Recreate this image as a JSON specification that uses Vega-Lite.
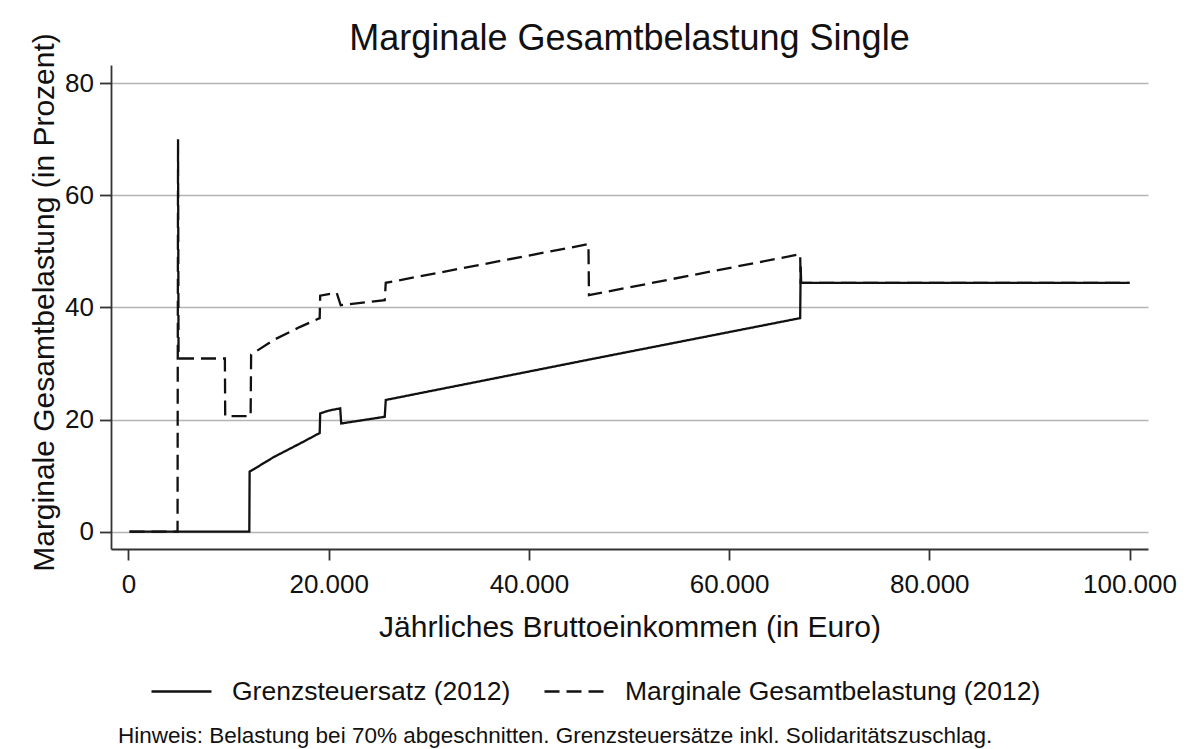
{
  "$schema": "https://vega.github.io/schema/vega-lite/v6.json",
  "width": 1037,
  "height": 484,
  "autosize": {"type": "none"},
  "padding": {"left": 111, "top": 65, "right": 41, "bottom": 200},
  "background": "white",
  "title": {
    "text": "Marginale Gesamtbelastung Single",
    "font": "Liberation Sans",
    "fontSize": 36,
    "fontWeight": "normal",
    "color": "#111111",
    "anchor": "middle",
    "baseline": "alphabetic",
    "offset": 15,
    "dy": 68
  },
  "data": {
    "values": [
      {"serie": "Grenzsteuersatz (2012)", "einkommen": 100, "satz": 0},
      {"serie": "Grenzsteuersatz (2012)", "einkommen": 12070, "satz": 0},
      {"serie": "Grenzsteuersatz (2012)", "einkommen": 12100, "satz": 10.7},
      {"serie": "Grenzsteuersatz (2012)", "einkommen": 14500, "satz": 13.3},
      {"serie": "Grenzsteuersatz (2012)", "einkommen": 17100, "satz": 15.7},
      {"serie": "Grenzsteuersatz (2012)", "einkommen": 19100, "satz": 17.6},
      {"serie": "Grenzsteuersatz (2012)", "einkommen": 19150, "satz": 21.1},
      {"serie": "Grenzsteuersatz (2012)", "einkommen": 20000, "satz": 21.6},
      {"serie": "Grenzsteuersatz (2012)", "einkommen": 21150, "satz": 22.0},
      {"serie": "Grenzsteuersatz (2012)", "einkommen": 21250, "satz": 19.3},
      {"serie": "Grenzsteuersatz (2012)", "einkommen": 25600, "satz": 20.5},
      {"serie": "Grenzsteuersatz (2012)", "einkommen": 25700, "satz": 23.5},
      {"serie": "Grenzsteuersatz (2012)", "einkommen": 46000, "satz": 30.7},
      {"serie": "Grenzsteuersatz (2012)", "einkommen": 67100, "satz": 38.1},
      {"serie": "Grenzsteuersatz (2012)", "einkommen": 67150, "satz": 47.3},
      {"serie": "Grenzsteuersatz (2012)", "einkommen": 67200, "satz": 44.4},
      {"serie": "Grenzsteuersatz (2012)", "einkommen": 100000, "satz": 44.4},
      {"serie": "Marginale Gesamtbelastung (2012)", "einkommen": 100, "satz": 0},
      {"serie": "Marginale Gesamtbelastung (2012)", "einkommen": 4900, "satz": 0},
      {"serie": "Marginale Gesamtbelastung (2012)", "einkommen": 4950, "satz": 70},
      {"serie": "Marginale Gesamtbelastung (2012)", "einkommen": 5000, "satz": 30.9},
      {"serie": "Marginale Gesamtbelastung (2012)", "einkommen": 9630, "satz": 30.9},
      {"serie": "Marginale Gesamtbelastung (2012)", "einkommen": 9660, "satz": 20.6},
      {"serie": "Marginale Gesamtbelastung (2012)", "einkommen": 12200, "satz": 20.6},
      {"serie": "Marginale Gesamtbelastung (2012)", "einkommen": 12250, "satz": 31.6},
      {"serie": "Marginale Gesamtbelastung (2012)", "einkommen": 14500, "satz": 34.2},
      {"serie": "Marginale Gesamtbelastung (2012)", "einkommen": 17100, "satz": 36.5},
      {"serie": "Marginale Gesamtbelastung (2012)", "einkommen": 19100, "satz": 38.1},
      {"serie": "Marginale Gesamtbelastung (2012)", "einkommen": 19150, "satz": 42.1},
      {"serie": "Marginale Gesamtbelastung (2012)", "einkommen": 20000, "satz": 42.4},
      {"serie": "Marginale Gesamtbelastung (2012)", "einkommen": 20800, "satz": 42.6},
      {"serie": "Marginale Gesamtbelastung (2012)", "einkommen": 21200, "satz": 40.4},
      {"serie": "Marginale Gesamtbelastung (2012)", "einkommen": 25600, "satz": 41.3},
      {"serie": "Marginale Gesamtbelastung (2012)", "einkommen": 25700, "satz": 44.4},
      {"serie": "Marginale Gesamtbelastung (2012)", "einkommen": 45950, "satz": 51.3},
      {"serie": "Marginale Gesamtbelastung (2012)", "einkommen": 46000, "satz": 42.2},
      {"serie": "Marginale Gesamtbelastung (2012)", "einkommen": 67100, "satz": 49.5},
      {"serie": "Marginale Gesamtbelastung (2012)", "einkommen": 67150, "satz": 44.4},
      {"serie": "Marginale Gesamtbelastung (2012)", "einkommen": 100000, "satz": 44.4}
    ]
  },
  "mark": {"type": "line", "color": "#111111", "strokeWidth": 2.3, "interpolate": "linear"},
  "encoding": {
    "x": {
      "field": "einkommen",
      "type": "quantitative",
      "scale": {"domain": [-1748, 101848], "nice": false, "zero": false},
      "axis": {
        "title": "Jährliches Bruttoeinkommen (in Euro)",
        "values": [0, 20000, 40000, 60000, 80000, 100000],
        "labelExpr": "replace(format(datum.value, ','), ',', '.')",
        "grid": false,
        "tickSize": 11,
        "labelPadding": 11,
        "titleY": 87,
        "titleBaseline": "alphabetic",
        "titleFontSize": 30
      }
    },
    "y": {
      "field": "satz",
      "type": "quantitative",
      "scale": {"domain": [-3.09, 83.26], "nice": false, "zero": false},
      "axis": {
        "title": "Marginale Gesamtbelastung (in Prozent)",
        "values": [0, 20, 40, 60, 80],
        "grid": true,
        "tickSize": 11.5,
        "labelPadding": 6,
        "titleX": -58,
        "titleY": 237,
        "titleAngle": -90,
        "titleAlign": "center",
        "titleBaseline": "alphabetic",
        "titleFontSize": 30
      }
    },
    "strokeDash": {
      "field": "serie",
      "type": "nominal",
      "scale": {
        "domain": ["Grenzsteuersatz (2012)", "Marginale Gesamtbelastung (2012)"],
        "range": [[1, 0], [15, 7]]
      },
      "legend": {
        "orient": "none",
        "legendX": 7,
        "legendY": 595,
        "direction": "horizontal",
        "columns": 2,
        "padding": 0,
        "title": "Hinweis: Belastung bei 70% abgeschnitten. Grenzsteuersätze inkl. Solidaritätszuschlag.",
        "titleOrient": "bottom",
        "titleAnchor": "start",
        "titleFontSize": 22.5,
        "titleFontWeight": "normal",
        "titleFont": "Liberation Sans",
        "titleColor": "#111111",
        "titleLimit": 1200,
        "titlePadding": 20,
        "symbolType": "stroke",
        "symbolSize": 3600,
        "symbolStrokeWidth": 2.3,
        "symbolStrokeColor": "#111111",
        "symbolOffset": 32,
        "labelOffset": 19,
        "labelFontSize": 26.5,
        "labelFont": "Liberation Sans",
        "labelColor": "#111111",
        "labelLimit": 600,
        "columnPadding": 0
      }
    }
  },
  "config": {
    "view": {"stroke": null},
    "font": "Liberation Sans",
    "axis": {
      "labelFont": "Liberation Sans",
      "labelFontSize": 26,
      "labelColor": "#111111",
      "titleFont": "Liberation Sans",
      "titleFontWeight": "normal",
      "titleColor": "#111111",
      "domainColor": "#333333",
      "domainWidth": 1.8,
      "tickColor": "#333333",
      "tickWidth": 1.8,
      "gridColor": "#b4b4b4",
      "gridWidth": 1.6,
      "labelOverlap": false,
      "labelFlush": false
    }
  }
}
